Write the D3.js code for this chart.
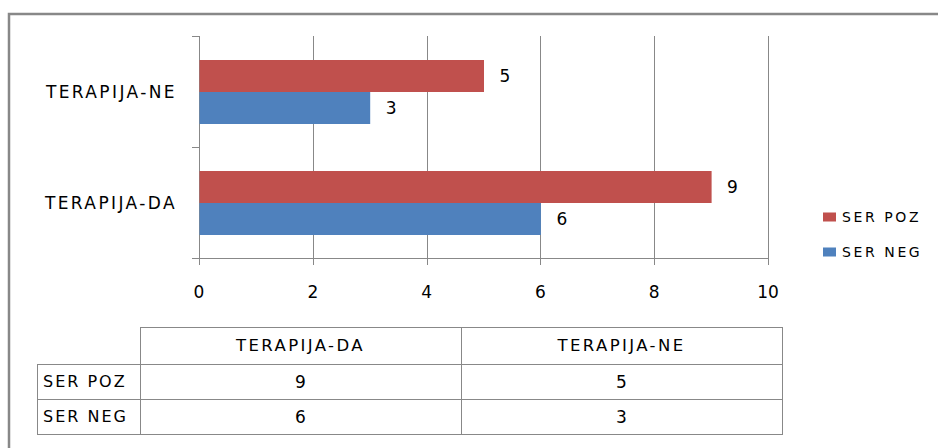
<!DOCTYPE html>
<html lang="en">
<head>
    <meta charset="UTF-8">
    <title>TERAPIJA</title>
    <script src="https://cdn.jsdelivr.net/npm/d3@7"></script>
    <style>
        html, body {
            margin: 0;
            padding: 0;
            background: #fff;
            overflow: hidden;
        }
        text {
            font-family: "DejaVu Sans", sans-serif;
            fill: #000;
        }
        .grid line, .axis-line {
            stroke: #888;
            stroke-width: 1px;
            shape-rendering: crispEdges;
        }
        .cell {
            fill: none;
            stroke: #888;
            stroke-width: 1px;
            shape-rendering: crispEdges;
        }
    </style>
</head>
<body>
<script>
    // data
    let categories = ['TERAPIJA-DA', 'TERAPIJA-NE'];
    let seriesNames = ['SER POZ', 'SER NEG'];
    let serPoz = [9, 5];
    let serNeg = [6, 3];
    let xTicks = [0, 2, 4, 6, 8, 10];
    let colors = ['#C0504D', '#4F81BD'];

    let width = 938;
    let height = 448;

    let svg = d3.select('body').append('svg')
        .attr('width', width)
        .attr('height', height);

    // outer frame (only top and left visible)
    svg.append('path')
        .attr('d', 'M9,460 V14 H950')
        .attr('fill', 'none')
        .attr('stroke', '#888')
        .attr('stroke-width', 2.5);

    let x = d3.scaleLinear().domain([0, 10]).range([199, 768]);
    let y = d3.scaleBand().domain(categories.slice().reverse()).range([36, 258]);
    let ySub = d3.scaleBand().domain(seriesNames).range([24, y.bandwidth() - 23]);

    let values = {'SER POZ': serPoz, 'SER NEG': serNeg};
    let barData = [];
    categories.forEach((c, i) => {
        seriesNames.forEach((s, j) => {
            barData.push({cat: c, series: s, value: values[s][i], color: colors[j]});
        });
    });

    // gridlines
    let grid = svg.append('g').classed('grid', true);
    grid.selectAll('line.v')
        .data(xTicks).enter()
        .append('line')
        .attr('x1', d => Math.round(x(d)) + 0.5)
        .attr('x2', d => Math.round(x(d)) + 0.5)
        .attr('y1', 36)
        .attr('y2', 265);

    // category ticks on the left
    let yBounds = [36, 36 + y.bandwidth(), 258];
    grid.selectAll('line.h')
        .data(yBounds).enter()
        .append('line')
        .attr('x1', 192)
        .attr('x2', x(0))
        .attr('y1', d => Math.round(d) + 0.5)
        .attr('y2', d => Math.round(d) + 0.5);

    svg.append('line')
        .classed('axis-line', true)
        .attr('x1', x(0))
        .attr('x2', x(10))
        .attr('y1', 258.5)
        .attr('y2', 258.5);

    // bars
    svg.append('g').selectAll('rect')
        .data(barData).enter()
        .append('rect')
        .attr('x', x(0) + 0.5)
        .attr('y', d => y(d.cat) + ySub(d.series))
        .attr('width', d => x(d.value) - x(0))
        .attr('height', ySub.bandwidth())
        .attr('fill', d => d.color);

    // value labels
    svg.append('g').selectAll('text')
        .data(barData).enter()
        .append('text')
        .attr('x', d => x(d.value) + 16)
        .attr('y', d => y(d.cat) + ySub(d.series) + ySub.bandwidth() / 2)
        .attr('dy', '0.36em')
        .style('font-size', '17px')
        .text(d => d.value);

    // x tick labels
    svg.append('g').selectAll('text')
        .data(xTicks).enter()
        .append('text')
        .attr('x', d => x(d))
        .attr('y', 292)
        .attr('dy', '0.36em')
        .attr('text-anchor', 'middle')
        .style('font-size', '17px')
        .text(d => d);

    // category labels
    svg.append('g').selectAll('text')
        .data(categories).enter()
        .append('text')
        .attr('x', 177)
        .attr('y', d => y(d) + y.bandwidth() / 2)
        .attr('dy', '0.36em')
        .attr('text-anchor', 'end')
        .style('font-size', '17px')
        .style('letter-spacing', '2.4px')
        .text(d => d);

    // legend
    let legend = svg.append('g').selectAll('g')
        .data(seriesNames).enter()
        .append('g')
        .attr('transform', (d, i) => `translate(823, ${217 + i * 35})`);
    legend.append('rect')
        .attr('x', 0)
        .attr('y', -4.5)
        .attr('width', 13)
        .attr('height', 9)
        .attr('fill', (d, i) => colors[i]);
    legend.append('text')
        .attr('x', 19)
        .attr('dy', '0.36em')
        .style('font-size', '14px')
        .style('letter-spacing', '2.6px')
        .text(d => d);

    // data table
    let colX = [37, 140, 461, 782];
    let rowY = [327, 364, 399, 434];
    let table = svg.append('g');

    // header cells
    table.selectAll('rect.head')
        .data(categories).enter()
        .append('rect')
        .classed('cell', true)
        .attr('x', (d, i) => colX[i + 1] + 0.5)
        .attr('y', rowY[0] + 0.5)
        .attr('width', (d, i) => colX[i + 2] - colX[i + 1])
        .attr('height', rowY[1] - rowY[0]);
    table.selectAll('text.head')
        .data(categories).enter()
        .append('text')
        .attr('x', (d, i) => (colX[i + 1] + colX[i + 2]) / 2)
        .attr('y', (rowY[0] + rowY[1]) / 2)
        .attr('dy', '0.36em')
        .attr('text-anchor', 'middle')
        .style('font-size', '16.5px')
        .style('letter-spacing', '2.4px')
        .text(d => d);

    let rows = table.selectAll('g.row')
        .data(seriesNames).enter()
        .append('g');

    rows.each(function (s, r) {
        let g = d3.select(this);
        let top = rowY[r + 1];
        let bottom = rowY[r + 2];
        g.selectAll('rect')
            .data([null].concat(values[s])).enter()
            .append('rect')
            .classed('cell', true)
            .attr('x', (d, i) => colX[i] + 0.5)
            .attr('y', top + 0.5)
            .attr('width', (d, i) => colX[i + 1] - colX[i])
            .attr('height', bottom - top);
        g.append('text')
            .attr('x', colX[0] + 6)
            .attr('y', (top + bottom) / 2)
            .attr('dy', '0.36em')
            .style('font-size', '16px')
            .style('letter-spacing', '2px')
            .text(s);
        g.selectAll('text.v')
            .data(values[s]).enter()
            .append('text')
            .attr('x', (d, i) => (colX[i + 1] + colX[i + 2]) / 2)
            .attr('y', (top + bottom) / 2)
            .attr('dy', '0.36em')
            .attr('text-anchor', 'middle')
            .style('font-size', '17px')
            .text(d => d);
    });
</script>
</body>
</html>
